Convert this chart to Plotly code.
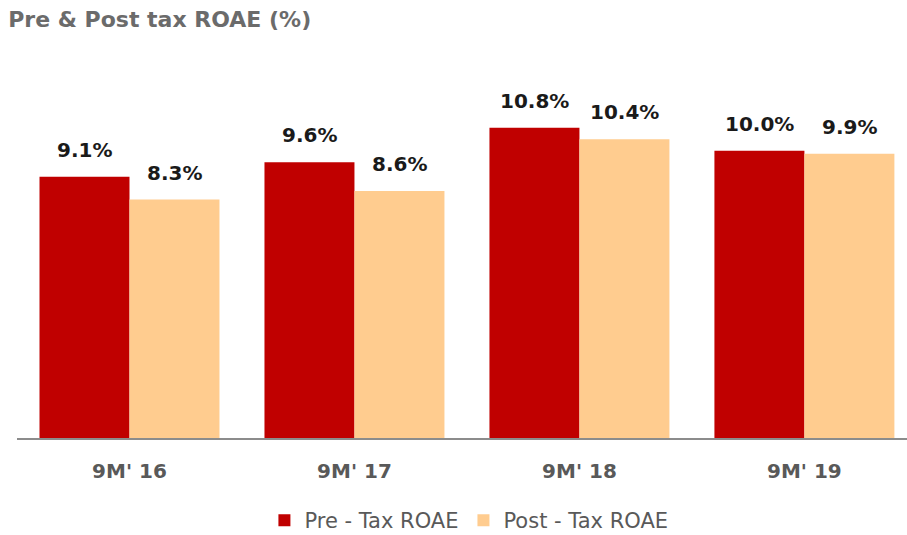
import plotly.graph_objects as go

categories = ["9M' 16", "9M' 17", "9M' 18", "9M' 19"]
pre_tax = [9.1, 9.6, 10.8, 10.0]
post_tax = [8.3, 8.6, 10.4, 9.9]
series_names = ["Pre - Tax ROAE", "Post - Tax ROAE"]
title_text = "Pre & Post tax ROAE (%)"

RED = "#C00000"
PEACH = "#FFCC8F"
FONT = "'DejaVu Sans', sans-serif"

fig = go.Figure()
fig.add_trace(go.Bar(x=categories, y=pre_tax, name=series_names[0],
                     marker=dict(color=RED, line=dict(width=0))))
fig.add_trace(go.Bar(x=categories, y=post_tax, name=series_names[1],
                     marker=dict(color=PEACH, line=dict(width=0))))

for vals, shift in ((pre_tax, -45), (post_tax, 45)):
    for c, v in zip(categories, vals):
        fig.add_annotation(x=c, y=v, xref="x", yref="y", text=f"{v:.1f}%",
                           showarrow=False, xshift=shift, yanchor="bottom", yshift=13,
                           font=dict(family=FONT, size=20, color="#1a1a1a", weight="bold"))

fig.update_layout(
    width=907, height=535,
    margin=dict(l=17, r=0, t=79, b=97),
    paper_bgcolor="white", plot_bgcolor="white",
    barmode="group", bargap=0.2, bargroupgap=0,
    title=dict(text=title_text, x=0.009, xanchor="left", y=0.963, yanchor="middle",
               font=dict(family=FONT, size=22, color="#6b6b6b", weight="bold")),
    xaxis=dict(range=[-0.5, 3.456], showline=True, linecolor="#8c8c8c", linewidth=2,
               ticks="", showgrid=False, zeroline=False, ticklabelstandoff=14,
               tickfont=dict(family=FONT, size=20, color="#595959", weight="bold")),
    yaxis=dict(range=[0, 12.5], visible=False, showgrid=False, zeroline=False),
    legend=dict(orientation="h", xref="container", yref="container",
                x=0.517, xanchor="center", y=0.027, yanchor="middle",
                font=dict(family=FONT, size=21, color="#595959"),
                itemwidth=30, traceorder="normal"),
    showlegend=True,
)

fig.write_html("out.html", config={"displayModeBar": False},
               post_script="document.body.style.margin='0';")
